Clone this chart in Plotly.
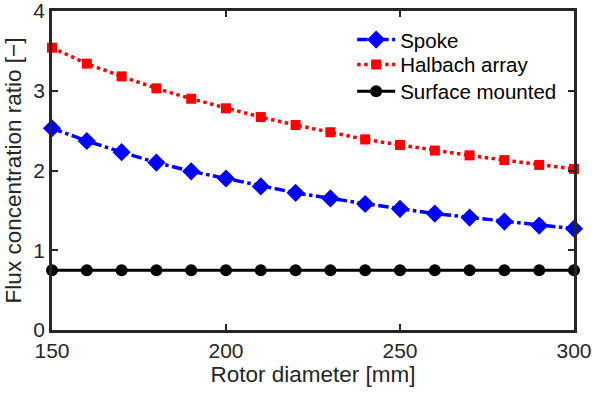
import plotly.graph_objects as go

diameter = [150, 160, 170, 180, 190, 200, 210, 220, 230, 240, 250, 260, 270, 280, 290, 300]
spoke = [2.53, 2.37, 2.23, 2.10, 1.99, 1.90, 1.80, 1.72, 1.65, 1.58, 1.52, 1.46, 1.41, 1.36, 1.31, 1.27]
halbach = [3.54, 3.34, 3.18, 3.03, 2.90, 2.78, 2.67, 2.57, 2.48, 2.39, 2.32, 2.25, 2.19, 2.13, 2.07, 2.02]
surface = [0.75] * 16

x_ticks = [150, 200, 250, 300]
y_ticks = [0, 1, 2, 3, 4]

FONT = "Liberation Sans, Arial, sans-serif"
AX = "#262626"

fig = go.Figure()
fig.add_trace(go.Scatter(x=diameter, y=spoke, name="Spoke", mode="lines+markers",
                         line=dict(color="#0000ff", width=3.5, dash="dashdot"),
                         marker=dict(symbol="diamond", size=14, color="#0000ff"),
                         cliponaxis=False, legend="legend"))
fig.add_trace(go.Scatter(x=diameter, y=halbach, name="Halbach array", mode="lines+markers",
                         line=dict(color="#ff0000", width=3.5, dash="dot"),
                         marker=dict(symbol="square", size=10, color="#ff0000"),
                         cliponaxis=False, legend="legend2"))
fig.add_trace(go.Scatter(x=diameter, y=surface, name="Surface mounted", mode="lines+markers",
                         line=dict(color="#000000", width=3),
                         marker=dict(symbol="circle", size=12, color="#000000"),
                         cliponaxis=False, legend="legend3"))

axis_common = dict(showline=True, linecolor=AX, linewidth=2.5, mirror="ticks",
                   ticks="inside", ticklen=6, tickwidth=2, tickcolor=AX,
                   showgrid=False, zeroline=False, automargin=False,
                   ticklabeloverflow="allow",
                   tickfont=dict(family=FONT, size=21, color=AX),
                   title_font=dict(family=FONT, size=22.5, color=AX))

fig.update_xaxes(range=[150, 300], tickvals=x_ticks, title_text="Rotor diameter [mm]",
                 title_standoff=6, **axis_common)
fig.update_yaxes(range=[0, 4], tickvals=y_ticks, title_text="Flux concentration ratio [\u2212]",
                 title_standoff=6, **axis_common)

leg_common = dict(x=0.575, xanchor="left", yanchor="middle",
                  bgcolor="rgba(255,255,255,0)", borderwidth=0,
                  font=dict(family=FONT, size=20.5, color="#000000"),
                  itemwidth=38)

fig.update_layout(
    width=592, height=396,
    margin=dict(l=52, r=18, t=11, b=66),
    paper_bgcolor="white", plot_bgcolor="white",
    font=dict(family=FONT, color=AX),
    showlegend=True,
    legend=dict(y=0.91, **leg_common),
    legend2=dict(y=0.832, **leg_common),
    legend3=dict(y=0.748, **leg_common),
)

fig.write_html("out.html", config={"displayModeBar": False},
               post_script="document.body.style.margin='0';")
